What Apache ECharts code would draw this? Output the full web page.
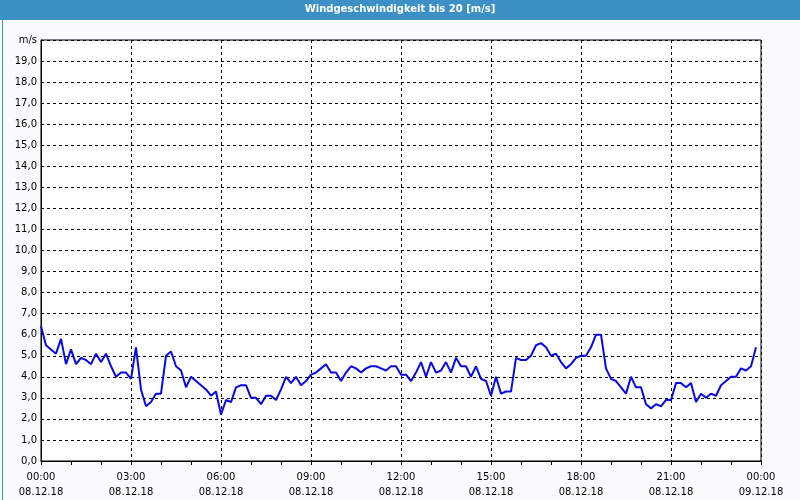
<!DOCTYPE html>
<html>
<head>
<meta charset="utf-8">
<script src="https://cdn.jsdelivr.net/npm/echarts@6/dist/echarts.min.js"></script>
<style>
html,body{margin:0;padding:0;background:#f8fcfc;}
#c{width:800px;height:500px;}
</style>
</head>
<body>
<div id="c"></div>
<script>
// Data: wind speed [m/s], one value every 10 minutes from 08.12.18 00:00
var stepMinutes = 10;
var windSpeed = [
  6.4,5.5,5.3,5.1,5.8,4.6,5.3,4.6,4.9,4.8,4.6,5.1,4.7,5.1,4.5,4.0,4.2,4.2,
  3.9,5.4,3.4,2.6,2.8,3.2,3.2,5.0,5.2,4.5,4.3,3.5,4.0,3.8,3.6,3.4,3.1,3.3,
  2.2,2.9,2.8,3.5,3.6,3.6,3.0,3.0,2.7,3.1,3.1,2.9,3.4,4.0,3.7,4.0,3.6,3.8,
  4.1,4.2,4.4,4.6,4.2,4.2,3.8,4.2,4.5,4.4,4.2,4.4,4.5,4.5,4.4,4.3,4.5,4.5,
  4.1,4.1,3.8,4.2,4.7,4.0,4.7,4.2,4.3,4.7,4.2,4.9,4.5,4.5,4.0,4.5,3.9,3.8,
  3.1,4.0,3.2,3.3,3.3,4.9,4.8,4.8,5.0,5.5,5.6,5.4,5.0,5.1,4.7,4.4,4.6,4.9,
  5.0,5.0,5.4,6.0,6.0,4.4,3.9,3.8,3.5,3.2,4.0,3.5,3.5,2.7,2.5,2.7,2.6,2.9,
  2.9,3.7,3.7,3.5,3.7,2.8,3.2,3.0,3.2,3.1,3.6,3.8,4.0,4.0,4.4,4.3,4.5,5.4
];
var timeLabels = ['00:00','03:00','06:00','09:00','12:00','15:00','18:00','21:00','00:00'];
var dateLabels = ['08.12.18','08.12.18','08.12.18','08.12.18','08.12.18','08.12.18','08.12.18','08.12.18','09.12.18'];
var titleText = 'Windgeschwindigkeit bis 20 [m/s]';
var unitLabel = 'm/s';

var seriesData = windSpeed.map(function(v, i){ return [i * stepMinutes, v]; });

var chart = echarts.init(document.getElementById('c'), null, {renderer:'canvas'});
var font = 'DejaVu Sans';
chart.setOption({
  backgroundColor: '#f8fcfc',
  animation: false,
  graphic: [
    {type:'rect', left:0, top:0, shape:{width:800, height:20}, style:{fill:'#3c90c6'}, z:0},
    {type:'rect', left:0, top:0, shape:{width:799, height:499}, style:{fill:'none', stroke:'#3c90c6', lineWidth:1}, z:0},
    {type:'text', left:'center', top:4, style:{text:titleText, fill:'#ffffff', font:'bold 10px "DejaVu Sans"'}, z:1}
  ],
  grid: {left:41, right:39, top:40, bottom:39, show:true, borderColor:'#000', borderWidth:1, backgroundColor:'#ffffff'},
  xAxis: {
    type:'value', min:0, max:1440, interval:180,
    axisLine:{show:true, lineStyle:{color:'#000', width:1}},
    axisTick:{show:true, length:4, lineStyle:{color:'#000'}},
    minorTick:{show:true, splitNumber:3, length:4, lineStyle:{color:'#000'}},
    splitLine:{show:true, lineStyle:{color:'#000', type:[3,3], width:1}},
    axisLabel:{
      margin:9, color:'#000', fontFamily:font, fontSize:10, lineHeight:15,
      showMinLabel:true, showMaxLabel:true,
      formatter:function(v){ var k = Math.round(v/180); return timeLabels[k] + '\n' + dateLabels[k]; }
    }
  },
  yAxis: {
    type:'value', min:0, max:20, interval:1,
    axisLine:{show:true, lineStyle:{color:'#000', width:1}},
    axisTick:{show:false},
    splitLine:{show:true, lineStyle:{color:'#000', type:[3,3], width:1}},
    axisLabel:{
      margin:4, color:'#000', fontFamily:font, fontSize:10,
      showMinLabel:true, showMaxLabel:true,
      formatter:function(v){ return v === 20 ? unitLabel : v.toFixed(1).replace('.', ','); }
    }
  },
  series: [{
    type:'line', data:seriesData, showSymbol:false, smooth:false,
    lineStyle:{color:'#0808ee', width:2}, itemStyle:{color:'#0808ee'}
  }]
});
</script>
</body>
</html>
